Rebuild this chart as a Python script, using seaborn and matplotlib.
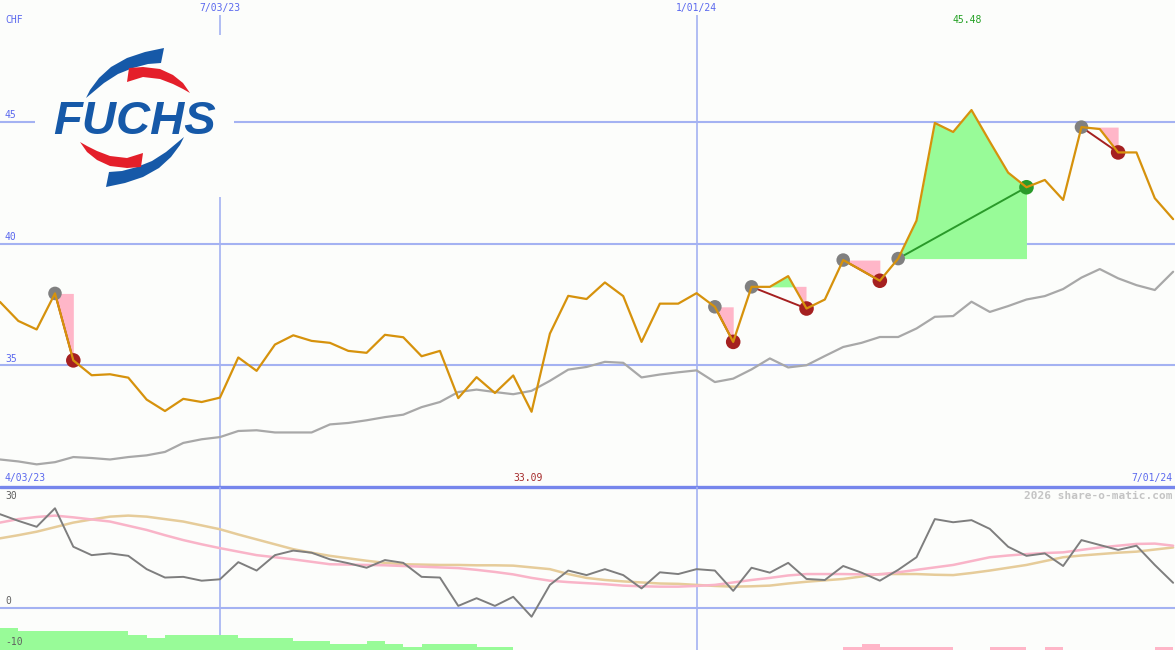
import numpy as np
import pandas as pd
import matplotlib
matplotlib.use("Agg")
import matplotlib.pyplot as plt
import seaborn as sns
from matplotlib.patches import Polygon, Rectangle

# ---------------- data ----------------
price = [37.6, 36.82, 36.47, 37.95, 35.2, 34.59, 34.63, 34.49, 33.59, 33.12,
         33.62, 33.49, 33.67, 35.32, 34.77, 35.85, 36.23, 36.0, 35.92, 35.59,
         35.51, 36.25, 36.15, 35.37, 35.59, 33.65, 34.51, 33.86, 34.58, 33.09,
         36.3, 37.85, 37.72, 38.4, 37.84, 35.96, 37.53, 37.53, 37.96, 37.4,
         35.96, 38.22, 38.22, 38.66, 37.33, 37.70, 39.32, 38.9, 38.47, 39.38,
         40.94, 44.95, 44.58, 45.48, 44.18, 42.91, 42.31, 42.61, 41.79, 44.78,
         44.7, 43.74, 43.74, 41.86, 41.0]

avg = [31.13, 31.05, 30.93, 31.02, 31.23, 31.19, 31.13, 31.23, 31.3, 31.44,
       31.81, 31.96, 32.05, 32.3, 32.33, 32.24, 32.24, 32.24, 32.57, 32.63,
       32.74, 32.87, 32.97, 33.28, 33.49, 33.9, 34.0, 33.9, 33.81, 33.95,
       34.36, 34.82, 34.93, 35.14, 35.1, 34.5, 34.62, 34.71, 34.79, 34.31,
       34.45, 34.83, 35.28, 34.91, 35.0, 35.38, 35.75, 35.92, 36.16, 36.16,
       36.51, 36.99, 37.02, 37.61, 37.19, 37.43, 37.7, 37.84, 38.13, 38.6,
       38.95, 38.57, 38.29, 38.09, 38.84]

osc = [26.8, 24.9, 23.2, 28.5, 17.5, 15.1, 15.6, 14.9, 11.1, 8.7,
       8.9, 7.8, 8.2, 13.1, 10.7, 15.1, 16.4, 15.8, 13.9, 12.8,
       11.5, 13.7, 12.9, 8.9, 8.7, 0.6, 2.8, 0.6, 3.2, -2.5,
       6.6, 10.7, 9.4, 11.1, 9.4, 5.6, 10.2, 9.7, 11.1, 10.7,
       4.9, 11.5, 10.1, 12.9, 8.3, 8.0, 12.0, 10.1, 7.8, 10.9,
       14.5, 25.4, 24.5, 25.1, 22.6, 17.5, 14.9, 15.6, 12.0, 19.4,
       18.0, 16.6, 17.8, 12.3, 7.2]

osc_fast = [24.4, 25.4, 26.0, 26.4, 25.9, 25.3, 24.7, 23.5, 22.3, 20.8,
            19.4, 18.2, 17.1, 16.1, 15.1, 14.5, 13.9, 13.2, 12.5, 12.4,
            12.3, 12.2, 12.0, 11.8, 11.6, 11.4, 10.9, 10.3, 9.6, 8.6,
            7.8, 7.4, 7.1, 6.8, 6.4, 6.2, 6.1, 6.1, 6.3, 6.6,
            7.3, 8.0, 8.6, 9.3, 9.7, 9.7, 9.7, 9.6, 9.6, 10.2,
            10.9, 11.6, 12.3, 13.4, 14.5, 15.0, 15.4, 15.7, 15.9, 16.6,
            17.3, 17.8, 18.3, 18.4, 17.8]

osc_slow = [19.9, 20.8, 21.8, 23.1, 24.4, 25.3, 26.1, 26.4, 26.1, 25.4,
            24.7, 23.6, 22.5, 21.0, 19.6, 18.2, 16.8, 15.8, 14.9, 14.2,
            13.5, 12.9, 12.5, 12.4, 12.3, 12.3, 12.2, 12.2, 12.1, 11.6,
            11.1, 9.7, 8.6, 8.0, 7.6, 7.3, 7.0, 6.9, 6.6, 6.3,
            6.1, 6.2, 6.4, 7.0, 7.5, 7.9, 8.3, 9.0, 9.7, 9.7,
            9.7, 9.5, 9.4, 10.0, 10.7, 11.5, 12.3, 13.4, 14.5, 15.0,
            15.4, 15.8, 16.1, 16.7, 17.3]

hist = [6.3, 5.4, 5.4, 5.4, 5.4, 5.4, 5.4, 4.3, 3.4, 4.3,
        4.3, 4.3, 4.3, 3.4, 3.4, 3.4, 2.6, 2.6, 1.7, 1.7,
        2.6, 1.7, 0.9, 1.7, 1.7, 1.7, 0.9, 0.9, 0, 0,
        0, 0, 0, 0, 0, 0, 0, 0, 0, 0,
        0, 0, 0, 0, 0, 0, -0.9, -1.7, -0.9, -0.9,
        -0.9, -0.9, 0, 0, -0.9, -0.9, 0, -0.9, 0, 0,
        0, 0, 0, -0.9]

sig_start = [3, 39, 41, 46, 49, 59]
sig_end = [4, 40, 44, 48, 56, 61]

date_pos = [12, 38]
date_labels = ["7/03/23", "1/01/24"]
first_date, last_date = "4/03/23", "7/01/24"
y_ticks = [45, 40, 35]
low_ticks = ["30", "0", "-10"]

# ---------------- style ----------------
W, H = 1175, 650
BG = "#fcfdfb"
GRID = "#a4b2f2"
BLUE_TXT = "#5a68ee"
PRICE_C = "#d6920c"
MONO = "DejaVu Sans Mono"

sns.set_style("white")
plt.rcParams["font.family"] = ["DejaVu Sans"]

idx = np.arange(len(price))
price_a = np.array(price)
df = pd.DataFrame({"i": idx, "price": price, "avg": avg, "osc": osc,
                   "fast": osc_fast, "slow": osc_slow})

fig = plt.figure(figsize=(W / 100, H / 100), dpi=100, facecolor=BG)
XMAX = W / 18.33
top_h = 487 / H
ax = fig.add_axes([0, 1 - top_h, 1, top_h])
axb = fig.add_axes([0, 0, 1, 1 - top_h])
for a in (ax, axb):
    a.set_xlim(0, XMAX)
    a.axis("off")
ax.set_ylim(30, 50)
axb.set_ylim(-12, 34.57)

# grid
for v in y_ticks:
    ax.axhline(v, color=GRID, lw=1.5, zorder=0)
ax.vlines(date_pos, 30, 49.38, color=GRID, lw=1.2, zorder=0)
axb.vlines(date_pos, -12, 34.57, color=GRID, lw=1.2, zorder=0)
axb.axhline(0, color=GRID, lw=1.5, zorder=0)
ax.axhline(30, color="#7686ec", lw=2.4, zorder=6, clip_on=False)

# signal fills
for s, e in zip(sig_start, sig_end):
    xs = idx[s:e + 1]
    ys = price_a[s:e + 1]
    base = price_a[s]
    ax.fill_between(xs, ys, base, where=ys >= base, interpolate=True,
                    color="#98fb98", lw=0, zorder=1)
    ax.fill_between(xs, ys, base, where=ys <= base, interpolate=True,
                    color="#ffb6c8", lw=0, zorder=1)

# average line
sns.lineplot(data=df, x="i", y="avg", ax=ax, color="#a8a8a8", lw=1.6,
             zorder=2, legend=False)

# signal lines and markers
for s, e in zip(sig_start, sig_end):
    win = price_a[e] > price_a[s]
    lc = "#2a9a2a" if win else "#a52020"
    ax.plot([s, e], [price_a[s], price_a[e]], color=lc, lw=1.4, zorder=3)
    sns.scatterplot(x=[s], y=[price_a[s]], ax=ax, color="#808080", s=95,
                    edgecolor="none", zorder=4, legend=False)
    sns.scatterplot(x=[e], y=[price_a[e]], ax=ax, color=lc, s=110,
                    edgecolor="none", zorder=4, legend=False)

# price line
sns.lineplot(data=df, x="i", y="price", ax=ax, color=PRICE_C, lw=1.6,
             zorder=5, legend=False)

# labels top
ax.text(date_pos[0], 49.67, date_labels[0], ha="center", va="center",
        color=BLUE_TXT, fontsize=7, family=MONO)
ax.text(date_pos[1], 49.67, date_labels[1], ha="center", va="center",
        color=BLUE_TXT, fontsize=7, family=MONO)
ax.text(0.27, 49.18, "CHF", ha="left", va="center", color=BLUE_TXT,
        fontsize=7, family=MONO)
for v in y_ticks:
    ax.text(0.27, v + 0.26, str(v), ha="left", va="center", color=BLUE_TXT,
            fontsize=7, family=MONO)
ax.text(0.27, 30.37, first_date, ha="left", va="center", color=BLUE_TXT,
        fontsize=7, family=MONO)
ax.text(XMAX - 0.15, 30.37, last_date, ha="right", va="center",
        color=BLUE_TXT, fontsize=7, family=MONO)
imax = int(np.argmax(price_a))
imin = int(np.argmin(price_a))
ax.text(imax - 0.25, 49.18, f"{price_a[imax]:.2f}", ha="center", va="center",
        color="#22a022", fontsize=7, family=MONO)
ax.text(imin - 0.2, 30.37, f"{price_a[imin]:.2f}", ha="center", va="center",
        color="#a52a2a", fontsize=7, family=MONO)

# lower panel
hist_a = np.array(hist)
cells = np.arange(len(hist_a))
hcol = np.where(hist_a >= 0, "#98fb98", "#ffb6c8")
axb.bar(cells, np.abs(hist_a) , bottom=-12, width=1.0, align="edge",
        color=hcol, lw=0, zorder=1)
sns.lineplot(data=df, x="i", y="slow", ax=axb, color="#e6cc9a", lw=1.8,
             zorder=2, legend=False)
sns.lineplot(data=df, x="i", y="fast", ax=axb, color="#f9b4c8", lw=1.8,
             zorder=2, legend=False)
sns.lineplot(data=df, x="i", y="osc", ax=axb, color="#7e7e7e", lw=1.4,
             zorder=3, legend=False)
for lab, yv in zip(low_ticks, [32.0, 2.0, -9.7]):
    axb.text(0.27, yv, lab, ha="left", va="center", color="#606060",
             fontsize=7, family=MONO, zorder=5)
axb.text(XMAX - 0.15, 32.0, "2026 share-o-matic.com", ha="right",
         va="center", color="#c4c4c4", fontsize=8, family=MONO,
         weight="bold")

# logo overlay
axl = fig.add_axes([0, 0, 1, 1])
axl.set_xlim(0, W)
axl.set_ylim(H, 0)
axl.axis("off")
axl.add_patch(Rectangle((35, 35), 199, 162, facecolor=BG, edgecolor="none"))
LOGO_BLUE = "#1659a8"
LOGO_RED = "#e41f2a"
top_blue = [(164, 48), (145, 52), (127, 58), (111, 67), (99, 78), (90, 90),
            (86, 98), (92, 93), (104, 83), (118, 74), (133, 68), (148, 64),
            (161, 63)]
top_red = [(129, 68), (143, 67), (160, 69), (173, 75), (183, 83), (190, 93),
           (183, 89), (173, 84), (160, 79), (143, 77), (127, 82)]
for pts, col in ((top_blue, LOGO_BLUE), (top_red, LOGO_RED)):
    axl.add_patch(Polygon(pts, closed=True, facecolor=col, edgecolor="none"))
    rot = [(270 - x, 235 - y) for x, y in pts]
    axl.add_patch(Polygon(rot, closed=True, facecolor=col, edgecolor="none"))
axl.text(135, 134, "FUCHS", ha="center", va="baseline", color=LOGO_BLUE,
         fontsize=34, family="Liberation Sans", weight="bold", style="italic")

fig.savefig("out.png", dpi=100, facecolor=BG)
